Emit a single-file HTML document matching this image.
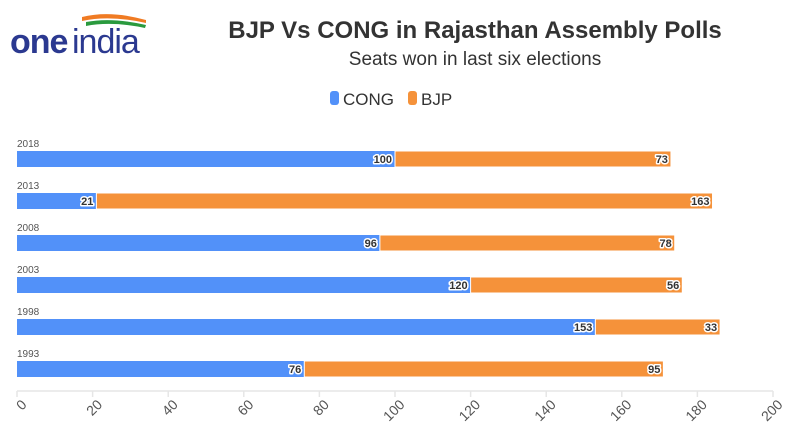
<!DOCTYPE html>
<html><head><meta charset="utf-8"><style>
body{margin:0;background:#fff;}
svg{display:block;font-family:"Liberation Sans",sans-serif;}
.lbl{font-size:11px;font-weight:bold;fill:#333;paint-order:stroke;stroke:#fff;stroke-width:3px;stroke-linejoin:round;text-anchor:end;}
.yr{font-size:10px;fill:#555;}
.tk{font-size:14px;fill:#555;}
</style></head><body>
<svg width="800" height="448" viewBox="0 0 800 448">
<path d="M82 17 Q110 10 146 20 L146 23 Q110 15 82 21Z" fill="#f07b23"/>
<path d="M86 22 Q112 17 146 25 L145 28 Q112 21 86 26Z" fill="#2a9a3e"/>
<text x="10" y="53" font-size="34" font-weight="bold" fill="#2b3990" letter-spacing="-1">one</text>
<text x="72" y="53" font-size="34" fill="#2b3990" letter-spacing="-1">india</text>
<text x="475" y="38" font-size="24" font-weight="bold" fill="#333" text-anchor="middle">BJP Vs CONG in Rajasthan Assembly Polls</text>
<text x="475" y="65" font-size="19" fill="#333" text-anchor="middle">Seats won in last six elections</text>
<rect x="330" y="91" width="9" height="14" rx="3" fill="#5291f9"/>
<text x="343" y="105" font-size="17" fill="#333">CONG</text>
<rect x="408" y="91" width="9" height="14" rx="3" fill="#f5923a"/>
<text x="421" y="105" font-size="17" fill="#333">BJP</text>
<g id="bars"></g>
<line x1="17" y1="391" x2="773" y2="391" stroke="#e6e6e6" stroke-width="1.5"/>
<g id="ticks"></g>
</svg>
<script>
const s=3.78,x0=17;
const d=[[2018,100,73,151],[2013,21,163,193],[2008,96,78,235],[2003,120,56,277],[1998,153,33,319],[1993,76,95,361]];
let h='';
for(const [y,c,b,t] of d){
 const xc=x0+c*s, xb=xc+b*s;
 h+=`<text class="yr" x="17" y="${t-4}">${y}</text>`;
 h+=`<rect x="${x0}" y="${t}" width="${c*s}" height="16" fill="#5291f9"/>`;
 h+=`<rect x="${xc}" y="${t}" width="${b*s}" height="16" fill="#f5923a" stroke="#fff" stroke-width="1"/>`;
 h+=`<text class="lbl" x="${xc-3}" y="${t+12}">${c}</text>`;
 h+=`<text class="lbl" x="${xb-3}" y="${t+12}">${b}</text>`;
}
document.getElementById('bars').innerHTML=h;
let k='';
for(let v=0;v<=200;v+=20){const x=x0+v*s;
 k+=`<line x1="${x}" y1="391" x2="${x}" y2="397" stroke="#e6e6e6" stroke-width="1.5"/>`;
 k+=`<text class="tk" transform="translate(${x+7},${402}) rotate(-45)" text-anchor="end" dominant-baseline="central">${v}</text>`;}
document.getElementById('ticks').innerHTML=k;
</script>
</body></html>
